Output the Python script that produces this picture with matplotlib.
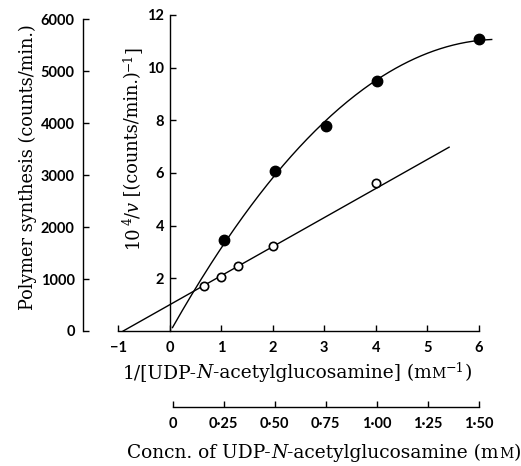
import numpy as np
import matplotlib
matplotlib.use('Agg')
import matplotlib.pyplot as plt

# open circles: 1/[UDP-GlcNAc] (mM^-1) against 10^4/v
recip_x = [0.667, 1.0, 1.333, 2.0, 4.0]
recip_y = [1.70, 2.04, 2.47, 3.22, 5.62]
# the straight line drawn through them (end points)
fit_x = [-0.9, 5.42]
fit_y = [0.0, 6.98]

# filled circles: concn (mM) against polymer synthesis (counts/min)
conc = [0.25, 0.50, 0.75, 1.00, 1.50]
polymer = [1747, 3071, 3948, 4812, 5612]
curve_end = 1.5625

recip_ticks = [-1, 0, 1, 2, 3, 4, 5, 6]
recip_labels = ['\u22121', '0', '1', '2', '3', '4', '5', '6']
inv_ticks = [2, 4, 6, 8, 10, 12]
conc_ticks = [0, 0.25, 0.50, 0.75, 1.00, 1.25, 1.50]
conc_labels = ['0', '0\u00b725', '0\u00b750', '0\u00b775', '1\u00b700', '1\u00b725', '1\u00b750']
poly_ticks = [0, 1000, 2000, 3000, 4000, 5000, 6000]

W, H = 521, 466
SERIF = 'DejaVu Serif'
LBL = 12.8      # vertical labels
XLBL = 13.4     # horizontal labels
TICKFONT = dict(family='Lato', weight='bold', size=10.5)

fig = plt.figure(figsize=(W / 100, H / 100), dpi=100)
rect = [83 / W, (H - 331) / H, (495 - 83) / W, 316 / H]

# polymer / concn axes
axc = fig.add_axes(rect)
axc.patch.set_visible(False)
axc.set_xlim(-0.4381, 1.5786)
axc.set_ylim(13, 6079)
for s in ['top', 'right']:
    axc.spines[s].set_visible(False)
axc.spines['left'].set_bounds(0, 6000)
axc.spines['bottom'].set_bounds(0, 1.5)
axc.spines['bottom'].set_position(('outward', 76 * 0.72))
axc.set_xticks(conc_ticks)
axc.set_xticklabels(conc_labels, fontdict=TICKFONT)
axc.set_yticks(poly_ticks)
axc.set_yticklabels([str(v) for v in poly_ticks], fontdict=TICKFONT)
axc.tick_params(axis='x', direction='in', length=4, width=1, pad=7)
axc.tick_params(axis='y', direction='in', length=4, width=1, pad=6)

# smooth saturation curve: quadratic through the origin and the points
coef = np.polyfit([0] + conc, [0] + polymer, 2)
xs = np.linspace(0, curve_end, 200)
axc.plot(xs, np.polyval(coef, xs), color='black', lw=1.0, clip_on=False)
axc.plot(conc, polymer, 'o', color='black', ms=7.5, clip_on=False)

# reciprocal axes
ax = fig.add_axes(rect)
ax.patch.set_visible(False)
ax.set_xlim(-1.679, 6.31)
ax.set_ylim(0, 12)
for s in ['top', 'right']:
    ax.spines[s].set_visible(False)
ax.spines['left'].set_position(('data', 0))
ax.spines['left'].set_bounds(0, 12)
ax.spines['bottom'].set_bounds(-1, 6)
ax.set_xticks(recip_ticks)
ax.set_xticklabels(recip_labels, fontdict=TICKFONT)
ax.set_yticks(inv_ticks)
ax.set_yticklabels([str(v) for v in inv_ticks], fontdict=TICKFONT)
ax.tick_params(axis='x', direction='in', length=4, width=1, pad=7)
ax.tick_params(axis='y', direction='in', length=4, width=1, pad=4)
for a in (ax, axc):
    for s in a.spines.values():
        s.set_linewidth(1.0)

ax.plot(fit_x, fit_y, color='black', lw=1.0)
ax.plot(recip_x, recip_y, 'o', mfc='white', mec='black', mew=1.2, ms=6, zorder=3)


def rich(px, py, parts, vertical=False):
    # parts: (text, size, style, rise in px); px, py = centre / baseline in image pixels
    r = fig.canvas.get_renderer()
    items = []
    total = 0
    for s, size, style, rise in parts:
        t = fig.text(0, 0, s, family=SERIF, fontsize=size, style=style,
                     ha='left', va='baseline', rotation_mode='anchor')
        w = t.get_window_extent(r).width
        items.append((t, w, rise))
        total += w
    pos = -total / 2
    for t, w, rise in items:
        if vertical:
            t.set_rotation(90)
            t.set_position(((px - rise) / W, (H - py + pos) / H))
        else:
            t.set_position(((px + pos) / W, (H - py + rise) / H))
        pos += w


fig.canvas.draw()
sup = LBL * 0.68
xsup = XLBL * 0.68
rich(33, 167, [('Polymer synthesis (counts/min.)', LBL, 'normal', 0)], vertical=True)
rich(138, 147, [('10', LBL, 'normal', 0), ('4', sup, 'normal', 6),
                ('/', LBL, 'normal', 0), ('v', LBL, 'italic', 0),
                (' [(counts/min.)', LBL, 'normal', 0), ('\u22121', sup, 'normal', 6),
                (']', LBL, 'normal', 0)], vertical=True)
rich(297, 378, [('1/[UDP-', XLBL, 'normal', 0), ('N', XLBL, 'italic', 0),
                ('-acetylglucosamine] (m', XLBL, 'normal', 0), ('M', XLBL * 0.75, 'normal', 0),
                ('\u22121', xsup, 'normal', 6), (')', XLBL, 'normal', 0)])
rich(324, 458, [('Concn. of UDP-', XLBL, 'normal', 0), ('N', XLBL, 'italic', 0),
                ('-acetylglucosamine (m', XLBL, 'normal', 0), ('M', XLBL * 0.75, 'normal', 0),
                (')', XLBL, 'normal', 0)])

fig.savefig('out.png', dpi=100)
